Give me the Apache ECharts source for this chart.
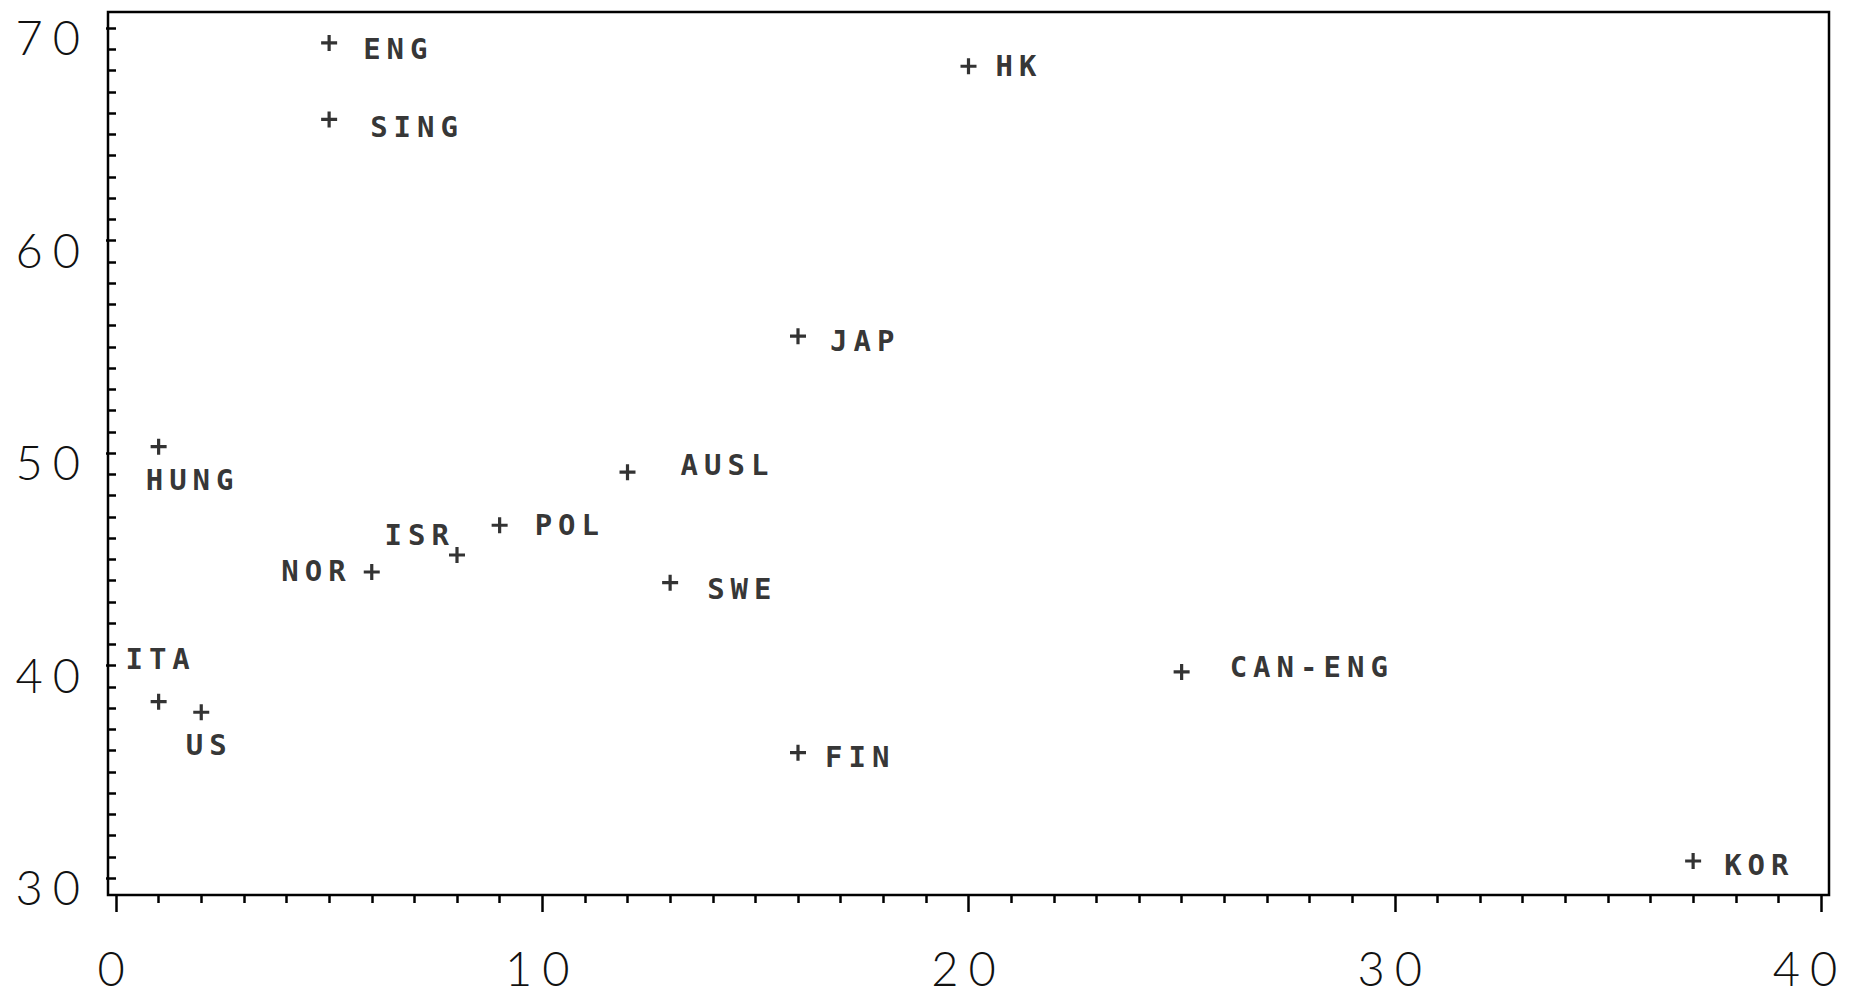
<!DOCTYPE html>
<html>
<head>
<meta charset="utf-8">
<title>scatter</title>
<script src="https://cdn.jsdelivr.net/npm/echarts@6/dist/echarts.min.js"></script>
<style>
	html, body { margin: 0; padding: 0; background: #fff; }
	#chart { width: 1854px; height: 997px; }
	/* plotter-like wide letter spacing (svg renderer) */
	#chart text { letter-spacing: 10px; }
	#chart text[style*="Mono"], #chart text[font-family*="Mono"] { letter-spacing: 6px; }
</style>
</head>
<body>
<div id="chart"></div>
<script>
// 数据
var countries = ['ENG', 'SING', 'HK', 'JAP', 'HUNG', 'AUSL', 'POL', 'ISR', 'NOR', 'SWE', 'CAN-ENG', 'ITA', 'US', 'FIN', 'KOR'];
var xValues = [5, 5, 20, 16, 1, 12, 9, 8, 6, 13, 25, 1, 2, 16, 37];
var yValues = [69.3, 65.7, 68.2, 55.5, 50.3, 49.1, 46.6, 45.2, 44.4, 43.9, 39.7, 38.3, 37.8, 35.9, 30.8];
var xTicks = [0, 10, 20, 30, 40];
var yTicks = [30, 40, 50, 60, 70];

// 标签位置 [align, dx, dy]
var labelPlace = {
	'ENG': ['left', 34, 6],
	'SING': ['left', 41, 8],
	'HK': ['left', 27, 0],
	'JAP': ['left', 32, 5],
	'HUNG': ['center', 34, 33],
	'AUSL': ['left', 53, -7],
	'POL': ['left', 35, 0],
	'ISR': ['right', -2, -20],
	'NOR': ['right', -20, -1],
	'SWE': ['left', 37, 6],
	'CAN-ENG': ['left', 48, -5],
	'ITA': ['center', 2, -43],
	'US': ['center', 8, 33],
	'FIN': ['left', 27, 4],
	'KOR': ['left', 31, 4]
};

var points = countries.map(function(name, i) {
	var p = labelPlace[name];
	return {
		name: name,
		value: [xValues[i], yValues[i]],
		label: { align: p[0], offset: [p[1], p[2]] }
	};
});

var black = '#000';
var tickFont = { fontFamily: 'Lato', fontWeight: 300, fontSize: 47, color: '#111' };
var xMax = xTicks[xTicks.length - 1];

var chart = echarts.init(document.getElementById('chart'), null, { renderer: 'svg' });
var option = {
	backgroundColor: '#fff',
	animation: false,
	grid: [
		// 外框
		{ left: 108, right: 25, top: 12, bottom: 102, outerBoundsMode: 'none', show: true, borderColor: black, borderWidth: 2.5, backgroundColor: 'transparent' },
		// 数据区
		{ left: 116, right: 33, top: 28, bottom: 119, outerBoundsMode: 'none' }
	],
	xAxis: [
		{ gridIndex: 0, type: 'value', show: false, min: 0, max: 1 },
		{
			gridIndex: 1, type: 'value', min: xTicks[0], max: xMax, interval: 10,
			offset: 17,
			axisLine: { show: false },
			axisTick: { show: true, length: 17, lineStyle: { color: black, width: 2.5 } },
			minorTick: { show: true, splitNumber: 10, length: 8, lineStyle: { color: black, width: 2.5 } },
			splitLine: { show: false },
			axisLabel: Object.assign({
				margin: 53,
				lineHeight: 40,
				formatter: function(v) {
					// 最右边的标签稍微往左
					return v === xMax ? '{last|' + v + '}' : String(v);
				},
				rich: { last: Object.assign({ lineHeight: 40, padding: [0, 22, 0, 0] }, tickFont) }
			}, tickFont)
		}
	],
	yAxis: [
		{ gridIndex: 0, type: 'value', show: false, min: 0, max: 1 },
		{
			gridIndex: 1, type: 'value', min: yTicks[0], max: yTicks[yTicks.length - 1], interval: 10,
			offset: 8,
			axisLine: { show: false },
			axisTick: { show: true, length: 10, lineStyle: { color: black, width: 2.5 } },
			minorTick: { show: true, splitNumber: 10, length: 7, lineStyle: { color: black, width: 2.5 } },
			splitLine: { show: false },
			axisLabel: Object.assign({ margin: 18, verticalAlign: 'top', lineHeight: 18 }, tickFont)
		}
	],
	series: [{
		type: 'scatter',
		xAxisIndex: 1,
		yAxisIndex: 1,
		symbol: 'path://M4,0H6V4H10V6H6V10H4V6H0V4H4Z',
		symbolSize: 16,
		itemStyle: { color: black },
		label: {
			show: true,
			position: 'inside',
			formatter: '{b}',
			fontFamily: 'DejaVu Sans Mono',
			fontWeight: 'bold',
			fontSize: 29,
			color: black,
			verticalAlign: 'middle'
		},
		data: points
	}]
};
chart.setOption(option);
window.onresize = chart.resize;
</script>
</body>
</html>
